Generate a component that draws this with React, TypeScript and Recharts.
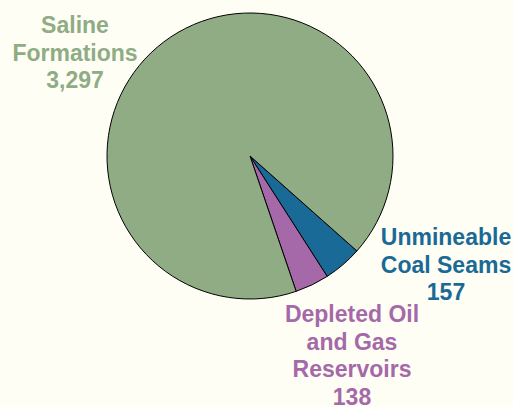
import React from "react";
import { PieChart, Pie, Cell } from "recharts";

const categories = ["Unmineable Coal Seams", "Depleted Oil and Gas Reservoirs", "Saline Formations"];
const values = [157, 138, 3297];
const valueLabels = ["157", "138", "3,297"];
const labelLines = [
  ["Unmineable", "Coal Seams"],
  ["Depleted Oil", "and Gas", "Reservoirs"],
  ["Saline", "Formations"],
];
const colors = ["#1A6A97", "#A569AA", "#8FAC84"];

// label anchor positions (centre x, first baseline y)
const labelPos = [
  { x: 446, y: 245 },
  { x: 352, y: 322 },
  { x: 75, y: 33 },
];
const LINE = 27.5;

const data = categories.map((name, i) => ({ name, value: values[i] }));

const renderLabel = (props: any) => {
  const i = props.index;
  const lines = [...labelLines[i], valueLabels[i]];
  const p = labelPos[i];
  return (
    <text
      key={`lbl-${i}`}
      x={p.x}
      y={p.y}
      textAnchor="middle"
      fill={colors[i]}
      style={{ fontFamily: "'Liberation Sans', Arial, sans-serif", fontWeight: 700, fontSize: 23 }}
    >
      {lines.map((t, k) => (
        <tspan key={k} x={p.x} y={p.y + k * LINE}>
          {t}
        </tspan>
      ))}
    </text>
  );
};

export default function App() {
  return (
    <div style={{ position: "fixed", left: 0, top: 0, width: 513, height: 407, background: "#FEFEF4" }}>
      <PieChart width={513} height={407} margin={{ top: 0, right: 0, bottom: 0, left: 0 }}>
        <Pie
          data={data}
          dataKey="value"
          nameKey="name"
          cx={250}
          cy={156}
          outerRadius={143}
          startAngle={-41.6}
          endAngle={-401.6}
          stroke="#000000"
          strokeWidth={1}
          label={renderLabel}
          labelLine={false}
          isAnimationActive={false}
        >
          {data.map((d, i) => (
            <Cell key={d.name} fill={colors[i]} />
          ))}
        </Pie>
      </PieChart>
    </div>
  );
}
